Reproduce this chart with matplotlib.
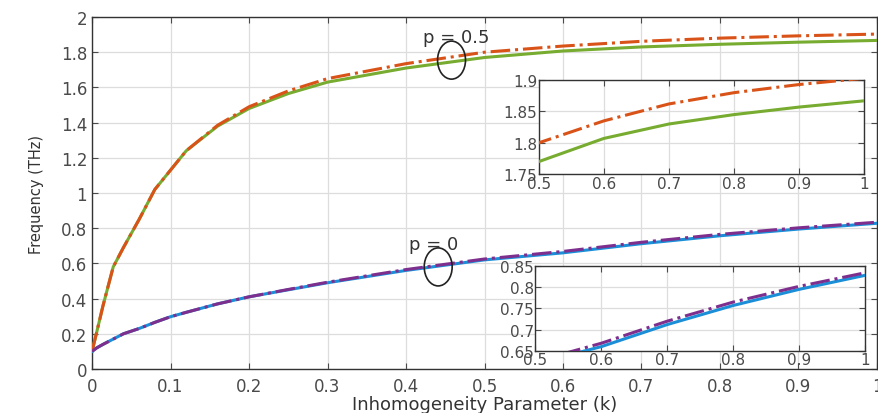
import numpy as np
import matplotlib.pyplot as plt
from matplotlib.patches import Ellipse

plt.rcParams['font.family'] = ['DejaVu Sans']

# 数据
k = [0, 0.006, 0.014, 0.027, 0.04, 0.06, 0.08, 0.1, 0.12, 0.16, 0.2, 0.25, 0.3, 0.4, 0.5, 0.6, 0.7, 0.8, 0.9, 1.0]
p05_solid = [0.1, 0.21, 0.36, 0.58, 0.69, 0.85, 1.02, 1.13, 1.24, 1.38, 1.48, 1.565, 1.63, 1.71, 1.77, 1.807, 1.83, 1.845, 1.857, 1.867]
p05_dash = [0.1, 0.21, 0.36, 0.58, 0.69, 0.85, 1.02, 1.13, 1.24, 1.385, 1.49, 1.58, 1.65, 1.735, 1.80, 1.835, 1.862, 1.88, 1.893, 1.903]
p0_solid = [0.1, 0.12, 0.14, 0.17, 0.2, 0.23, 0.265, 0.297, 0.322, 0.37, 0.41, 0.45, 0.49, 0.56, 0.62, 0.66, 0.712, 0.757, 0.795, 0.828]
p0_dash = [0.1, 0.12, 0.14, 0.17, 0.2, 0.23, 0.265, 0.297, 0.322, 0.37, 0.41, 0.452, 0.493, 0.565, 0.625, 0.668, 0.72, 0.765, 0.802, 0.834]

green = '#77AC30'
orange = '#D95319'
blue = '#1A8FD8'
purple = '#7E2F8E'
tick_color = '#4a4a4a'

fig = plt.figure(figsize=(8.79, 4.14), dpi=100)
ax = fig.add_axes([0.1047, 0.1063, 0.893, 0.8502])


def draw(a, lw=2.2):
    a.plot(k, p05_solid, color=green, lw=lw, zorder=3)
    a.plot(k, p05_dash, color=orange, lw=lw, ls='-.', zorder=4)
    a.plot(k, p0_solid, color=blue, lw=lw, zorder=3)
    a.plot(k, p0_dash, color=purple, lw=lw, ls='-.', zorder=4)


def style(a, fs):
    a.grid(True, color='#dddddd', lw=0.9)
    a.set_axisbelow(True)
    a.tick_params(direction='in', top=True, right=True, labelsize=fs, colors=tick_color, labelcolor=tick_color, length=4)
    for s in a.spines.values():
        s.set_color('#333333')
        s.set_linewidth(1.0)


draw(ax)
ax.set_xlim(0, 1)
ax.set_ylim(0, 2)
ax.set_xticks(np.arange(0, 1.01, 0.1))
ax.set_xticklabels(['0', '0.1', '0.2', '0.3', '0.4', '0.5', '0.6', '0.7', '0.8', '0.9', '1'])
ax.set_yticks(np.arange(0, 2.01, 0.2))
ax.set_yticklabels(['0', '0.2', '0.4', '0.6', '0.8', '1', '1.2', '1.4', '1.6', '1.8', '2'])
style(ax, 12)
ax.tick_params(axis='x', pad=6)
ax.set_xlabel('Inhomogeneity Parameter (k)', fontsize=13, color='#333333', labelpad=0)
ax.set_ylabel('Frequency (THz)', fontsize=10.5, color='#333333', labelpad=12)

# 椭圆标注
ax.add_patch(Ellipse((0.458, 1.755), 0.0356, 0.216, fill=False, ec='#222222', lw=1.2, zorder=6))
ax.add_patch(Ellipse((0.441, 0.58), 0.0356, 0.216, fill=False, ec='#222222', lw=1.2, zorder=6))
ax.text(0.464, 1.886, 'p = 0.5', ha='center', va='center', fontsize=13, color='#333333', zorder=7)
ax.text(0.435, 0.71, 'p = 0', ha='center', va='center', fontsize=13, color='#333333', zorder=7)

# 局部放大图 1
ax1 = fig.add_axes([0.613, 0.577, 0.370, 0.227])
draw(ax1)
ax1.set_xlim(0.5, 1)
ax1.set_ylim(1.75, 1.9)
ax1.set_xticks(np.arange(0.5, 1.01, 0.1))
ax1.set_xticklabels(['0.5', '0.6', '0.7', '0.8', '0.9', '1'])
ax1.set_yticks([1.75, 1.8, 1.85, 1.9])
ax1.set_yticklabels(['1.75', '1.8', '1.85', '1.9'])
style(ax1, 11)
ax1.tick_params(pad=1)

# 局部放大图 2
ax2 = fig.add_axes([0.609, 0.150, 0.375, 0.205])
draw(ax2)
ax2.set_xlim(0.5, 1)
ax2.set_ylim(0.65, 0.85)
ax2.set_xticks(np.arange(0.5, 1.01, 0.1))
ax2.set_xticklabels(['0.5', '0.6', '0.7', '0.8', '0.9', '1'])
ax2.set_yticks([0.65, 0.7, 0.75, 0.8, 0.85])
ax2.set_yticklabels(['0.65', '0.7', '0.75', '0.8', '0.85'])
style(ax2, 11)
ax2.tick_params(pad=1)

fig.savefig('out.png', dpi=100)
